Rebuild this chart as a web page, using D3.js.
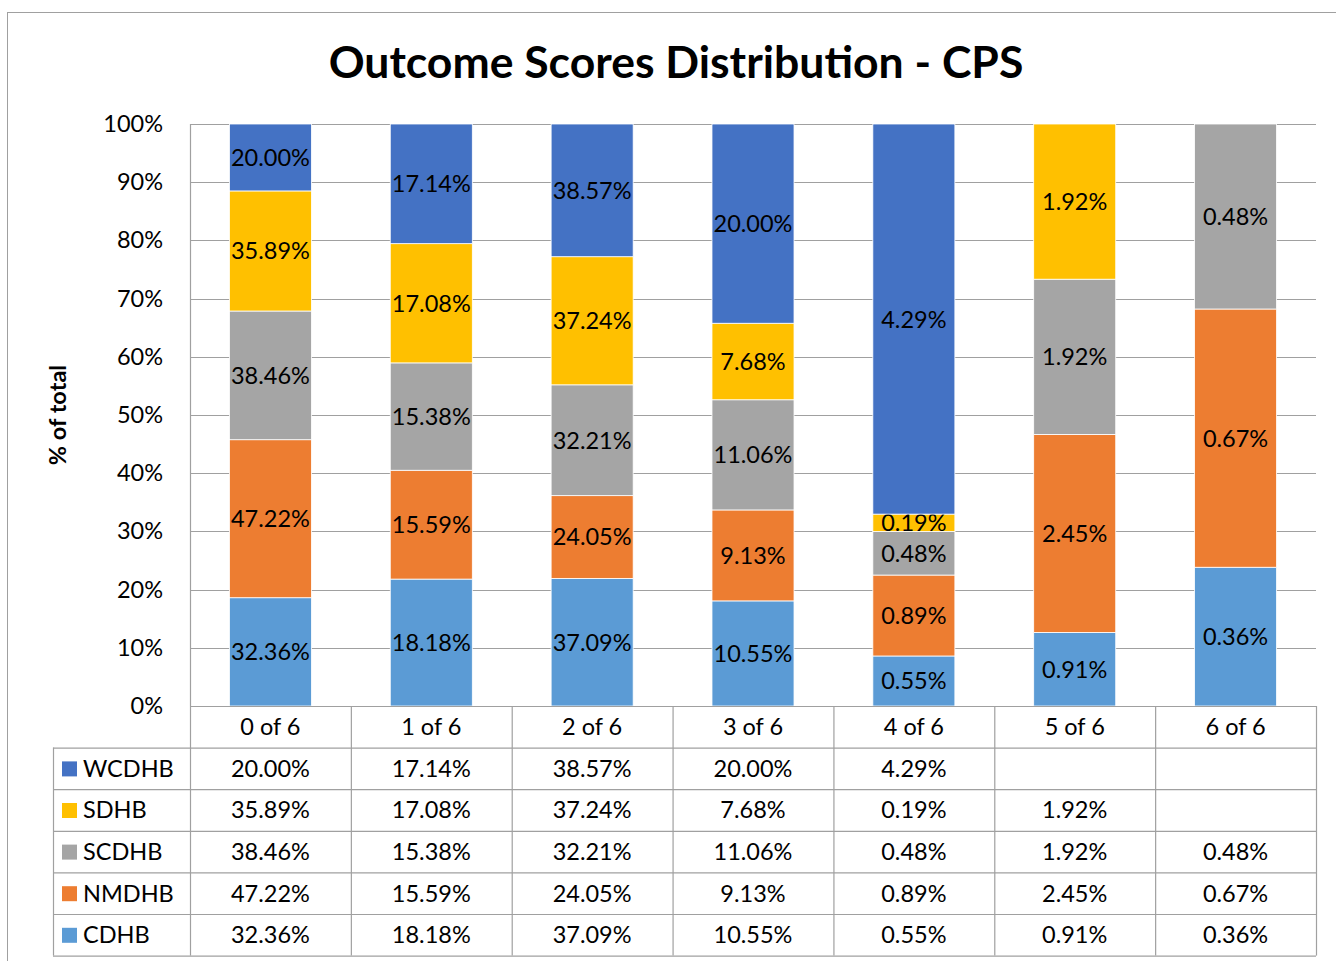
<!DOCTYPE html>
<html>
<head>
<meta charset="utf-8">
<script src="https://cdn.jsdelivr.net/npm/d3@7"></script>
<style>
  body { margin: 0; background: #fff; }
  svg { display: block; font-family: Lato, "Open Sans", sans-serif; }
</style>
</head>
<body>
<svg id="graf" width="1336" height="961"></svg>
<script>
// datos
categorias = ['0 of 6', '1 of 6', '2 of 6', '3 of 6', '4 of 6', '5 of 6', '6 of 6']
WCDHB = [20.00, 17.14, 38.57, 20.00, 4.29, null, null]
SDHB  = [35.89, 17.08, 37.24, 7.68, 0.19, 1.92, null]
SCDHB = [38.46, 15.38, 32.21, 11.06, 0.48, 1.92, 0.48]
NMDHB = [47.22, 15.59, 24.05, 9.13, 0.89, 2.45, 0.67]
CDHB  = [32.36, 18.18, 37.09, 10.55, 0.55, 0.91, 0.36]
ticksY = [0, 0.1, 0.2, 0.3, 0.4, 0.5, 0.6, 0.7, 0.8, 0.9, 1]

series = [
  { nombre: 'WCDHB', valores: WCDHB, color: '#4472C4' },
  { nombre: 'SDHB',  valores: SDHB,  color: '#FFC000' },
  { nombre: 'SCDHB', valores: SCDHB, color: '#A5A5A5' },
  { nombre: 'NMDHB', valores: NMDHB, color: '#ED7D31' },
  { nombre: 'CDHB',  valores: CDHB,  color: '#5B9BD5' }
]

// configuracion
svg = d3.select('#graf')
margins = { top: 124, left: 190, right: 20, bottom: 255 }
ancho = 1336 - margins.left - margins.right
alto = 961 - margins.top - margins.bottom
filaAlto = 41.6
tablaIzq = 53
gris = '#a0a0a0'
fuente = '23.5px'

// marco
svg.append('rect')
   .attr('x', 7.5).attr('y', 12.5)
   .attr('width', 1340).attr('height', 960)
   .attr('fill', 'none').attr('stroke', gris)

svg.append('text')
   .attr('x', 676).attr('y', 78)
   .attr('text-anchor', 'middle')
   .style('font-size', '44.5px').style('font-weight', 'bold')
   .text('Outcome Scores Distribution - CPS')

g = svg.append('g')
       .attr('transform', `translate(${margins.left}, ${margins.top})`)

x = d3.scaleBand()
      .domain(categorias)
      .range([0, ancho])
      .paddingInner(0.49)
      .paddingOuter(0.245)

y = d3.scaleLinear()
      .domain([0, 1])
      .range([alto, 0])

// tabla de filas para el stack
filas = categorias.map((c, i) => {
  let f = { cat: c }
  series.forEach(s => { f[s.nombre] = s.valores[i] || 0 })
  return f
})
orden = ['CDHB', 'NMDHB', 'SCDHB', 'SDHB', 'WCDHB']
color = d3.scaleOrdinal()
          .domain(series.map(s => s.nombre))
          .range(series.map(s => s.color))

stack = d3.stack().keys(orden).offset(d3.stackOffsetExpand)
capas = stack(filas)

// rejilla
g.selectAll('.grid')
  .data(ticksY)
  .enter().append('line')
    .attr('x1', 0).attr('x2', ancho)
    .attr('y1', d => Math.round(y(d)) + 0.5)
    .attr('y2', d => Math.round(y(d)) + 0.5)
    .attr('stroke', gris).attr('stroke-width', 1.2)

g.append('line')
  .attr('x1', 0.5).attr('x2', 0.5)
  .attr('y1', 0).attr('y2', alto)
  .attr('stroke', gris).attr('stroke-width', 1.2)

// barras
capaG = g.selectAll('.capa')
  .data(capas)
  .enter().append('g')
    .attr('fill', d => color(d.key))

capaG.selectAll('rect')
  .data(d => d.map(p => ({ key: d.key, p: p })))
  .enter().append('rect')
    .filter(d => d.p[1] - d.p[0] > 0)
    .attr('x', d => x(d.p.data.cat))
    .attr('y', d => y(d.p[1]))
    .attr('width', x.bandwidth())
    .attr('height', d => y(d.p[0]) - y(d.p[1]))
    .attr('stroke', '#fff').attr('stroke-width', 0.8)

capaG.selectAll('text')
  .data(d => d.map(p => ({ key: d.key, p: p })).filter(d => d.p.data[d.key] > 0))
  .enter().append('text')
    .attr('x', d => x(d.p.data.cat) + x.bandwidth() / 2)
    .attr('y', d => (y(d.p[0]) + y(d.p[1])) / 2)
    .attr('dy', '0.36em')
    .attr('text-anchor', 'middle')
    .attr('fill', '#000')
    .style('font-size', fuente)
    .text(d => d3.format('.2f')(d.p.data[d.key]) + '%')

// eje y
yAxisCall = d3.axisLeft(y)
              .tickValues(ticksY)
              .tickFormat(d3.format('.0%'))
              .tickSize(0)
              .tickPadding(27)
yAxisGroup = g.append('g').call(yAxisCall)
yAxisGroup.select('.domain').remove()
yAxisGroup.selectAll('text')
  .style('font-size', fuente)
  .style('font-family', 'Lato, sans-serif')
  .attr('fill', '#000')

svg.append('text')
   .attr('transform', `translate(66, 415) rotate(-90)`)
   .attr('text-anchor', 'middle')
   .style('font-size', fuente).style('font-weight', 'bold')
   .text('% of total')

// tabla de datos
t = g.append('g').attr('transform', `translate(0, ${alto})`)
bordes = categorias.map(c => x(c) - x.step() * x.paddingInner() / 2)
bordes[0] = 0
bordes.push(ancho)

// lineas horizontales
d3.range(0, series.length + 2).forEach(i => {
  t.append('line')
   .attr('x1', i === 0 ? 0 : tablaIzq - margins.left)
   .attr('x2', ancho)
   .attr('y1', i * filaAlto + 0.5).attr('y2', i * filaAlto + 0.5)
   .attr('stroke', gris).attr('stroke-width', 1.2)
})
// lineas verticales
bordes.forEach((b, i) => {
  t.append('line')
   .attr('x1', b + 0.5).attr('x2', b + 0.5)
   .attr('y1', 0).attr('y2', filaAlto * (series.length + 1))
   .attr('stroke', gris).attr('stroke-width', 1.2)
})
t.append('line')
 .attr('x1', tablaIzq - margins.left + 0.5).attr('x2', tablaIzq - margins.left + 0.5)
 .attr('y1', filaAlto).attr('y2', filaAlto * (series.length + 1))
 .attr('stroke', gris).attr('stroke-width', 1.2)

// encabezados
t.selectAll('.cab')
  .data(categorias)
  .enter().append('text')
    .attr('x', d => x(d) + x.bandwidth() / 2)
    .attr('y', filaAlto / 2)
    .attr('dy', '0.36em')
    .attr('text-anchor', 'middle')
    .style('font-size', fuente)
    .text(d => d)

series.forEach((s, i) => {
  let yy = filaAlto * (i + 1) + filaAlto / 2
  t.append('rect')
   .attr('x', tablaIzq - margins.left + 9)
   .attr('y', yy - 7)
   .attr('width', 15).attr('height', 15)
   .attr('fill', s.color)
  t.append('text')
   .attr('x', tablaIzq - margins.left + 30)
   .attr('y', yy).attr('dy', '0.36em')
   .style('font-size', fuente)
   .text(s.nombre)
  t.selectAll('.v' + s.nombre)
   .data(s.valores)
   .enter().append('text')
     .attr('x', (d, j) => x(categorias[j]) + x.bandwidth() / 2)
     .attr('y', yy).attr('dy', '0.36em')
     .attr('text-anchor', 'middle')
     .style('font-size', fuente)
     .text(d => d === null ? '' : d3.format('.2f')(d) + '%')
})
</script>
</body>
</html>
